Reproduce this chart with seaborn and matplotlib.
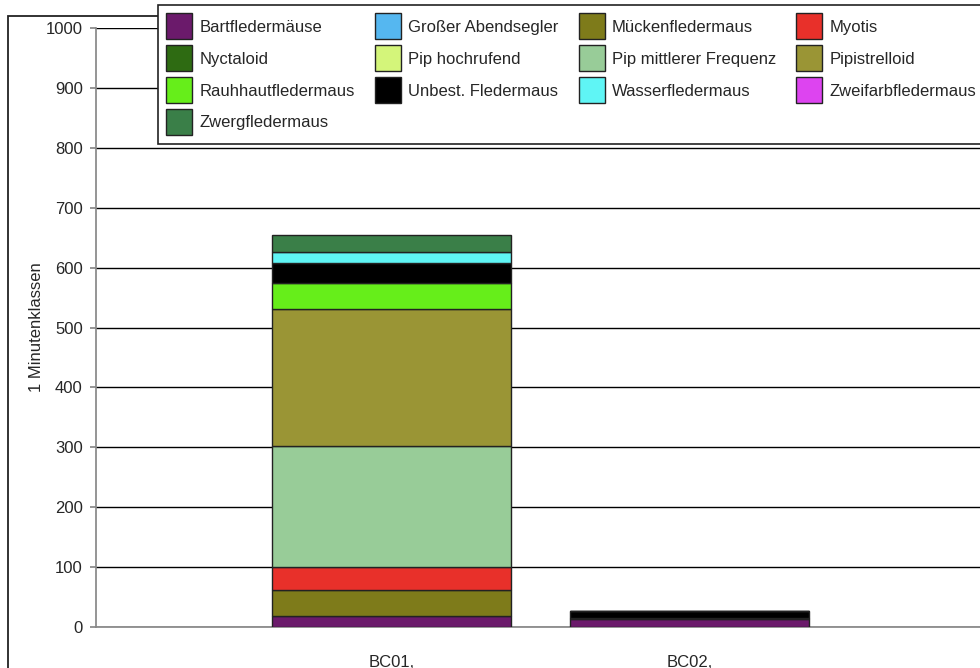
import matplotlib
matplotlib.use("Agg")
import matplotlib.pyplot as plt
from matplotlib.patches import Patch, Rectangle
import seaborn as sns
import numpy as np

sns.set_theme(style="white")
plt.rcParams['font.family'] = ['Liberation Sans', 'DejaVu Sans']

stations = ["BC01,", "BC02,"]
species = ["Bartfledermäuse", "Großer Abendsegler", "Mückenfledermaus", "Myotis",
           "Nyctaloid", "Pip hochrufend", "Pip mittlerer Frequenz", "Pipistrelloid",
           "Rauhhautfledermaus", "Unbest. Fledermaus", "Wasserfledermaus",
           "Zweifarbfledermaus", "Zwergfledermaus"]
colors = ["#6b1a6b", "#55b7f0", "#7e7b1a", "#e8302a",
          "#2e6b12", "#d4f57a", "#98cc98", "#9a9535",
          "#66ee1a", "#000000", "#5ff5f5",
          "#dd44f0", "#3a7f48"]
bc01 = [19, 0, 42, 40, 0, 0, 202, 228, 44, 33, 18, 0, 28]
bc02 = [14, 0, 1, 0, 0, 0, 0, 0, 0, 12, 0, 0, 0]

fig = plt.figure(figsize=(9.8, 6.68), dpi=100)
ax = fig.add_axes([96 / 980, 1 - 627 / 668, 1 - 96 / 980 + 0.002, (627 - 28) / 668])
ax.set_facecolor("none")

bottoms = np.zeros(len(stations))
for name, col, v1, v2 in zip(species, colors, bc01, bc02):
    vals = np.array([v1, v2], dtype=float)
    if vals.sum() == 0:
        continue
    sns.barplot(x=stations, y=vals, bottom=bottoms, color=col, width=0.8,
                edgecolor="#222222", linewidth=1.0, saturation=1, ax=ax, zorder=3)
    bottoms += vals

ax.set_ylim(0, 1000)
ax.set_xlim(-0.99, 1.98)
ax.set_yticks(np.arange(0, 1001, 100))
ax.yaxis.grid(True, color="black", linewidth=1.0)
ax.set_axisbelow(True)
for s in ["top", "right"]:
    ax.spines[s].set_visible(False)
ax.spines["left"].set_color("#888888")
ax.spines["bottom"].set_color("#888888")
ax.tick_params(axis="y", left=True, length=4.5, color="#888888", labelsize=12, pad=5)
ax.tick_params(axis="x", bottom=False, labelsize=12, pad=14)
ax.set_ylabel("1 Minutenklassen", fontsize=12, labelpad=1)

# outer frame
fig.add_artist(Rectangle((8 / 980, -0.2), 1.2, 1.2 - 16 / 668, transform=fig.transFigure,
                         fill=False, edgecolor="#222222", linewidth=1.3, zorder=-1))

# legend, row-major in 4 columns
handles = [Patch(facecolor=c, edgecolor="#222222", linewidth=1.0) for c in colors]
order = []
for col in range(4):
    order += list(range(col, len(species), 4))
leg = ax.legend([handles[i] for i in order], [species[i] for i in order],
                ncol=4, loc="upper left", bbox_to_anchor=(158 / 980, 1 - 5 / 668),
                bbox_transform=fig.transFigure, borderaxespad=0, fontsize=12,
                handlelength=1.56, handleheight=2.02, handletextpad=0.42,
                labelspacing=0.36, columnspacing=1.22, borderpad=0.5,
                frameon=True, fancybox=False, framealpha=1, edgecolor="#222222")
leg.get_frame().set_linewidth(1.2)
leg.set_zorder(10)

fig.savefig("out.png", dpi=100)
